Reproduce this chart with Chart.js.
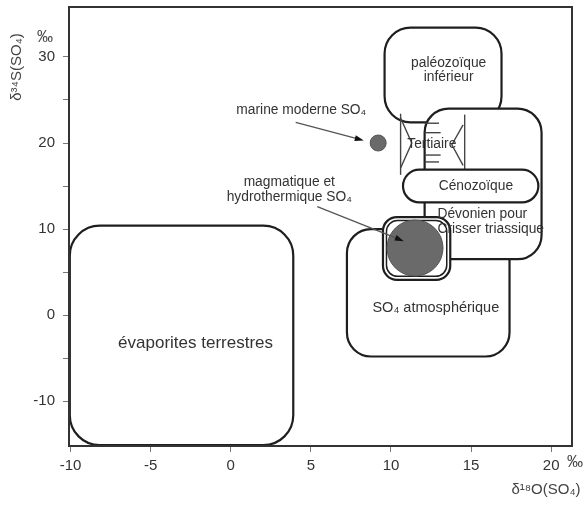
<!DOCTYPE html>
<html>
<head>
<meta charset="utf-8">
<script src="https://cdn.jsdelivr.net/npm/chart.js@4.4.1/dist/chart.umd.min.js"></script>
<style>
  html, body { margin: 0; padding: 0; background: #fff; }
</style>
</head>
<body>
<canvas id="chart" width="585" height="506"></canvas>
<script>
// axes (‰): x = δ18O(SO4), y = δ34S(SO4)
const xTicks = [-10, -5, 0, 5, 10, 15, 20];
const yTicks = [-10, -5, 0, 5, 10, 15, 20, 25, 30];

// isotope fields, drawn as rounded boxes
const fieldNames = ["évaporites terrestres", "SO₄ atmosphérique", "paléozoïque inférieur",
  "Dévonien pour Crisser triassique", "Cénozoïque", "magmatique et hydrothermique SO₄"];
const fieldX0 = [-10.05, 7.25, 9.6, 12.1, 10.75, 9.5];
const fieldX1 = [3.9, 17.4, 16.9, 19.4, 19.2, 13.7];
const fieldY0 = [-15.1, -4.8, 22.4, 6.5, 13.1, 4.1];
const fieldY1 = [10.4, 10.0, 33.4, 24.0, 16.9, 11.4];

// point sources
const sourceNames = ["marine moderne SO₄", "magmatique et hydrothermique SO₄"];
const sourceX = [9.2, 11.5];
const sourceY = [20.0, 7.8];

// Tertiaire brackets
const tertiaireLines = [
  [[10.6, 23.4], [10.6, 16.3]],
  [[10.6, 22.9], [11.3, 20.0], [10.6, 17.1]],
  [[14.6, 23.3], [14.6, 16.9]],
  [[14.5, 22.1], [13.8, 19.8], [14.5, 17.4]],
  [[12.1, 22.3], [13.0, 22.3]],
  [[12.1, 21.2], [13.1, 21.2]],
  [[12.1, 18.6], [13.1, 18.6]],
  [[12.1, 17.8], [13.0, 17.8]]
];

// text labels
const noteText = ["évaporites terrestres", "SO₄ atmosphérique", "paléozoïque\ninférieur", "Cénozoïque",
  "Tertiaire", "marine moderne SO₄", "magmatique et\nhydrothermique SO₄", "Dévonien pour\nCrisser triassique"];
const noteX = [-2.2, 12.8, 13.6, 15.3, 12.55, 4.4, 3.65, 12.9];
const noteY = [-3.3, 0.8, 28.45, 15.0, 19.9, 23.8, 14.6, 10.85];

// arrows from labels to sources
const arrowX0 = [4.05, 5.4];
const arrowY0 = [22.4, 12.6];
const arrowX1 = [8.3, 10.8];
const arrowY1 = [20.3, 8.6];

const cornerR = [30, 24, 26, 24, null, 14];
const noteSize = [17, 14.5, 13.8, 13.8, 13.8, 13.8, 13.8, 13.8];
const noteAlign = ["center", "center", "center", "center", "center", "center", "center", "left"];
const FONT = '"Liberation Sans", Arial, sans-serif';

function roundBox(ctx, x, y, w, h, r) {
  r = Math.min(r, w / 2, h / 2);
  ctx.beginPath();
  ctx.moveTo(x + r, y);
  ctx.arcTo(x + w, y, x + w, y + h, r);
  ctx.arcTo(x + w, y + h, x, y + h, r);
  ctx.arcTo(x, y + h, x, y, r);
  ctx.arcTo(x, y, x + w, y, r);
  ctx.closePath();
}

const fieldsPlugin = {
  id: "fields",
  beforeDatasetsDraw(chart) {
    const { ctx, scales: { x, y } } = chart;
    ctx.save();
    ctx.lineJoin = "round";
    fieldNames.forEach((name, i) => {
      const l = x.getPixelForValue(fieldX0[i]), r = x.getPixelForValue(fieldX1[i]);
      const t = y.getPixelForValue(fieldY1[i]), b = y.getPixelForValue(fieldY0[i]);
      const rad = cornerR[i] == null ? (b - t) / 2 : cornerR[i];
      roundBox(ctx, l, t, r - l, b - t, rad);
      ctx.fillStyle = "#fff";
      ctx.fill();
      ctx.strokeStyle = "#1e1e1e";
      ctx.lineWidth = 2.2;
      ctx.stroke();
      if (i === 5) {
        roundBox(ctx, l + 3.5, t + 3.5, r - l - 7, b - t - 7, rad - 3);
        ctx.lineWidth = 1.5;
        ctx.stroke();
      }
      if (i === 3) {
        // Tertiaire brackets sit inside the Dévonien box
        ctx.strokeStyle = "#444";
        ctx.lineWidth = 1.4;
        tertiaireLines.forEach(pts => {
          ctx.beginPath();
          pts.forEach((p, k) => {
            const px = x.getPixelForValue(p[0]), py = y.getPixelForValue(p[1]);
            k ? ctx.lineTo(px, py) : ctx.moveTo(px, py);
          });
          ctx.stroke();
        });
      }
    });

    ctx.fillStyle = "#333";
    ctx.textBaseline = "middle";
    noteText.forEach((txt, i) => {
      const lines = txt.split("\n");
      const size = noteSize[i];
      ctx.font = size + "px " + FONT;
      ctx.textAlign = noteAlign[i];
      const cx = x.getPixelForValue(noteX[i]), cy = y.getPixelForValue(noteY[i]);
      const lh = size + 1;
      lines.forEach((ln, k) => {
        ctx.fillText(ln, cx, cy + (k - (lines.length - 1) / 2) * lh);
      });
    });
    ctx.restore();
  },
  afterDatasetsDraw(chart) {
    const { ctx, scales: { x, y } } = chart;
    ctx.save();
    arrowX0.forEach((v, i) => {
      const x0 = x.getPixelForValue(v), y0 = y.getPixelForValue(arrowY0[i]);
      const x1 = x.getPixelForValue(arrowX1[i]), y1 = y.getPixelForValue(arrowY1[i]);
      const a = Math.atan2(y1 - y0, x1 - x0);
      ctx.strokeStyle = "#555";
      ctx.lineWidth = 1.3;
      ctx.beginPath();
      ctx.moveTo(x0, y0);
      ctx.lineTo(x1 - 6 * Math.cos(a), y1 - 6 * Math.sin(a));
      ctx.stroke();
      ctx.fillStyle = "#111";
      ctx.beginPath();
      ctx.moveTo(x1, y1);
      ctx.lineTo(x1 - 9 * Math.cos(a) + 3 * Math.sin(a), y1 - 9 * Math.sin(a) - 3 * Math.cos(a));
      ctx.lineTo(x1 - 9 * Math.cos(a) - 3 * Math.sin(a), y1 - 9 * Math.sin(a) + 3 * Math.cos(a));
      ctx.closePath();
      ctx.fill();
    });
    ctx.restore();
  },
  afterDraw(chart) {
    const { ctx, chartArea: ca } = chart;
    ctx.save();
    ctx.strokeStyle = "#333";
    ctx.lineWidth = 2;
    ctx.strokeRect(ca.left, ca.top, ca.right - ca.left, ca.bottom - ca.top);

    ctx.fillStyle = "#444";
    ctx.textAlign = "center";
    ctx.textBaseline = "middle";
    ctx.font = "16px " + FONT;
    ctx.fillText("‰", 45, 38);
    ctx.fillText("‰", 575, 463);
    ctx.font = "15px " + FONT;
    ctx.fillText("δ¹⁸O(SO₄)", 546, 490);
    ctx.translate(17, 67);
    ctx.rotate(-Math.PI / 2);
    ctx.fillText("δ³⁴S(SO₄)", 0, 0);
    ctx.restore();
  }
};

// frame is placed by layout.padding only, no label overhang
const noPad = s => { s.paddingTop = 0; s.paddingBottom = 0; s.paddingLeft = 0; s.paddingRight = 0; };

new Chart(document.getElementById("chart"), {
  type: "scatter",
  data: {
    datasets: [{
      label: "sources",
      data: sourceX.map((v, i) => ({ x: v, y: sourceY[i] })),
      pointRadius: [8, 28],
      pointHoverRadius: [8, 28],
      pointBackgroundColor: "#6a6a6a",
      pointBorderColor: "#555",
      pointBorderWidth: 1
    }]
  },
  options: {
    responsive: false,
    animation: false,
    devicePixelRatio: 1,
    layout: { autoPadding: false, padding: { top: 7, right: 13, left: 0, bottom: 0 } },
    plugins: { legend: { display: false }, tooltip: { enabled: false } },
    scales: {
      x: {
        type: "linear",
        min: -10.1,
        max: 21.3,
        afterBuildTicks: s => { s.ticks = xTicks.map(v => ({ value: v })); },
        afterFit: s => { s.height = 60; noPad(s); },
        border: { display: false },
        grid: { drawOnChartArea: false, drawTicks: true, tickLength: 6, color: "#777" },
        ticks: { color: "#333", padding: 5, maxRotation: 0, autoSkip: false, font: { size: 15, family: FONT } }
      },
      y: {
        type: "linear",
        min: -15.2,
        max: 35.8,
        afterBuildTicks: s => { s.ticks = yTicks.map(v => ({ value: v })); },
        afterFit: s => { s.width = 69; noPad(s); },
        border: { display: false },
        grid: { drawOnChartArea: false, drawTicks: true, tickLength: 6, color: "#777" },
        ticks: {
          color: "#333", padding: 8, autoSkip: false, font: { size: 15, family: FONT },
          callback: v => (v % 10 === 0 ? v : "")
        }
      }
    }
  },
  plugins: [fieldsPlugin]
});
</script>
</body>
</html>
